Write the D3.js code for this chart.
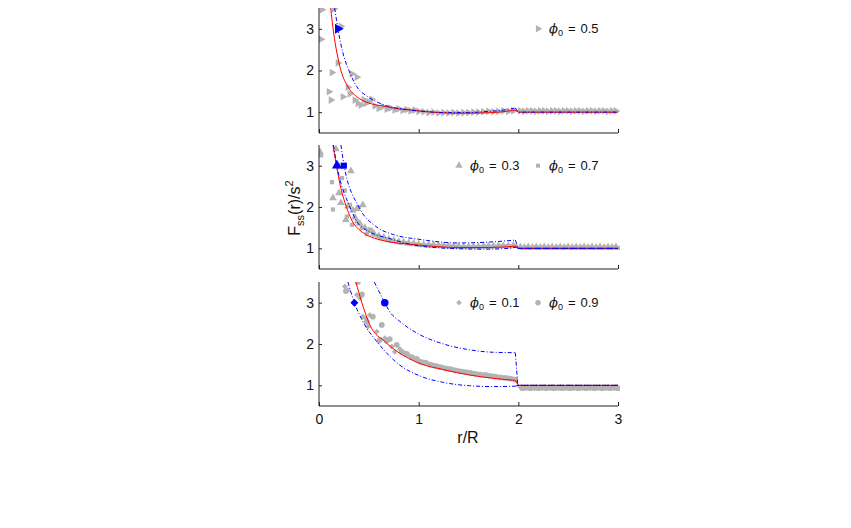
<!DOCTYPE html>
<html>
<head>
<meta charset="utf-8">
<script src="https://cdn.jsdelivr.net/npm/d3@7"></script>
<style>
  body { margin: 0; background: #fff; }
  svg text { font-family: "Liberation Sans", Arial, Helvetica, sans-serif; fill: #111; }
</style>
</head>
<body>
<svg id="chart" width="851" height="528"></svg>
<script>
// ---- data: [r/R, Fss/s^2] ----

const xTicks = [0, 1, 2, 3];
const yTicks = [1, 2, 3];

// panel 1 (phi0 = 0.5)
const p1Red = [[0.117,3.5],[0.147,2.9],[0.18,2.42],[0.22,2.0],[0.29,1.61],[0.38,1.37],[0.5,1.22],[0.66,1.14],[0.8,1.08],[0.93,1.05],[1.0,1.03],[1.2,0.99],[1.4,0.975],[1.6,0.98],[1.8,1.0],[1.97,1.05],[2.0,1.0],[3.0,1.0]];
const p1Blue = [[0.157,3.5],[0.19,3.0],[0.24,2.42],[0.30,2.0],[0.38,1.61],[0.49,1.37],[0.66,1.17],[0.93,1.05],[1.1,1.01],[1.3,0.99],[1.5,0.99],[1.7,1.02],[1.85,1.05],[1.97,1.10],[2.0,1.0],[3.0,1.0]];
const p1BlueMark = [[0.19, 3.0]];
const phi05 = [[0.02,2.75],[0.03,3.46],[0.10,1.49],[0.12,1.29],[0.13,1.95],[0.15,3.48],[0.19,2.18],[0.22,3.06],[0.24,1.37],[0.29,1.60],[0.31,1.44],[0.33,1.92],[0.36,1.29],[0.38,1.84],[0.39,1.21],[0.42,1.17],[0.45,1.30],[0.47,1.21],[0.50,1.25],[0.53,1.31],[0.56,1.15],[0.60,1.09],[0.64,1.13],[0.68,1.07],[0.72,1.10],[0.76,1.05],[0.80,1.08],[0.84,1.04],[0.88,1.06],[0.92,1.03],[0.96,1.05],[1.00,1.02],[1.05,1.01],[1.10,0.99],[1.15,1.00],[1.20,0.98],[1.25,0.99],[1.30,0.98],[1.35,0.99],[1.40,0.98],[1.45,0.99],[1.50,0.99],[1.55,1.00],[1.60,1.00],[1.65,1.01],[1.70,1.02],[1.75,1.01],[1.80,1.02],[1.85,1.03],[1.90,1.02],[1.95,1.03],[2.02,1.03],[2.06,1.02],[2.10,1.03],[2.14,1.03],[2.18,1.02],[2.22,1.03],[2.26,1.03],[2.30,1.02],[2.34,1.03],[2.38,1.03],[2.42,1.02],[2.46,1.03],[2.50,1.03],[2.54,1.02],[2.58,1.03],[2.62,1.03],[2.66,1.02],[2.70,1.03],[2.74,1.03],[2.78,1.02],[2.82,1.03],[2.86,1.03],[2.90,1.02],[2.94,1.03],[2.98,1.03]];

// panel 2 (phi0 = 0.3 and 0.7)
const p2Red = [[0.14,3.5],[0.175,3.0],[0.22,2.45],[0.275,2.0],[0.37,1.53],[0.62,1.2],[1.0,1.08],[1.4,1.02],[1.7,1.02],[1.97,1.05],[2.0,1.0],[3.0,1.0]];
const p2BlueLow = [[0.145,3.5],[0.18,3.0],[0.31,2.0],[0.42,1.53],[0.76,1.2],[1.0,1.06],[1.4,0.99],[1.7,0.98],[1.9,1.0],[1.98,1.03],[2.0,1.0],[3.0,1.0]];
const p2BlueHigh = [[0.22,3.5],[0.25,3.03],[0.40,2.0],[0.57,1.53],[0.75,1.33],[1.0,1.22],[1.4,1.13],[1.7,1.15],[1.97,1.2],[2.0,1.0],[3.0,1.0]];
const p2BlueTri = [[0.18, 3.0]];
const p2BlueSq = [[0.25, 3.0]];
const phi03 = [[0.01,3.33],[0.14,2.22],[0.17,3.40],[0.20,2.34],[0.21,2.98],[0.22,2.10],[0.27,1.69],[0.29,2.02],[0.32,2.87],[0.34,1.92],[0.36,1.75],[0.38,1.96],[0.41,1.60],[0.44,2.05],[0.46,1.50],[0.50,1.42],[0.55,1.36],[0.60,1.30],[0.65,1.26],[0.70,1.22],[0.75,1.19],[0.80,1.16],[0.85,1.15],[0.90,1.13],[0.95,1.12],[1.00,1.10],[1.05,1.09],[1.10,1.08],[1.15,1.08],[1.20,1.07],[1.25,1.06],[1.30,1.06],[1.35,1.05],[1.40,1.05],[1.45,1.04],[1.50,1.04],[1.55,1.04],[1.60,1.04],[1.65,1.05],[1.70,1.05],[1.75,1.05],[1.80,1.06],[1.85,1.06],[1.90,1.06],[1.95,1.07],[2.02,1.03],[2.06,1.02],[2.10,1.03],[2.14,1.02],[2.18,1.03],[2.22,1.02],[2.26,1.03],[2.30,1.02],[2.34,1.03],[2.38,1.02],[2.42,1.03],[2.46,1.02],[2.50,1.03],[2.54,1.02],[2.58,1.03],[2.62,1.02],[2.66,1.03],[2.70,1.02],[2.74,1.03],[2.78,1.02],[2.82,1.03],[2.86,1.02],[2.90,1.03],[2.94,1.02],[2.98,1.03]];
const phi07 = [[0.02,3.25],[0.13,2.60],[0.14,1.94],[0.23,2.70],[0.26,2.40],[0.28,1.77],[0.31,2.05],[0.33,1.57],[0.38,1.65],[0.40,2.00],[0.43,1.49],[0.48,1.35],[0.52,1.45],[0.55,1.33],[0.61,1.25],[0.68,1.20],[0.72,1.18],[0.78,1.15],[0.82,1.13],[0.88,1.12],[0.92,1.10],[0.98,1.09],[1.02,1.08],[1.08,1.07],[1.12,1.07],[1.18,1.06],[1.22,1.06],[1.28,1.05],[1.32,1.04],[1.38,1.04],[1.42,1.03],[1.48,1.03],[1.52,1.03],[1.58,1.03],[1.62,1.03],[1.68,1.04],[1.72,1.04],[1.78,1.04],[1.82,1.05],[1.88,1.05],[1.92,1.05],[1.97,1.06],[2.04,1.01],[2.08,1.02],[2.12,1.01],[2.16,1.02],[2.20,1.01],[2.24,1.02],[2.28,1.01],[2.32,1.02],[2.36,1.01],[2.40,1.02],[2.44,1.01],[2.48,1.02],[2.52,1.01],[2.56,1.02],[2.60,1.01],[2.64,1.02],[2.68,1.01],[2.72,1.02],[2.76,1.01],[2.80,1.02],[2.84,1.01],[2.88,1.02],[2.92,1.01],[2.96,1.02],[3.00,1.01]];

// panel 3 (phi0 = 0.1 and 0.9)
const p3Red = [[0.37,3.5],[0.43,3.0],[0.51,2.46],[0.66,2.06],[0.9,1.65],[1.01,1.53],[1.25,1.38],[1.51,1.25],[1.75,1.17],[1.97,1.12],[2.0,1.0],[3.0,1.0]];
const p3BlueLow = [[0.29,3.5],[0.355,3.0],[0.46,2.46],[0.58,2.06],[0.81,1.49],[1.01,1.23],[1.25,1.07],[1.51,0.99],[1.75,0.97],[1.97,0.98],[2.0,1.0],[3.0,1.0]];
const p3BlueHigh = [[0.555,3.5],[0.66,3.0],[0.71,2.78],[0.81,2.55],[1.0,2.24],[1.25,2.0],[1.51,1.86],[1.75,1.8],[1.97,1.79],[1.995,1.0],[3.0,1.0]];
const p3BlueDia = [[0.355, 3.0]];
const p3BlueCirc = [[0.66, 3.0]];
const phi01 = [[0.26,3.39],[0.29,3.30],[0.38,3.19],[0.41,3.11],[0.44,2.66],[0.47,2.62],[0.49,2.42],[0.51,2.70],[0.58,2.30],[0.60,2.06],[0.66,2.14],[0.73,1.94],[0.76,1.81],[0.81,1.88],[0.86,1.78],[0.90,1.73],[0.95,1.66],[1.00,1.60],[1.05,1.56],[1.10,1.52],[1.15,1.48],[1.20,1.45],[1.25,1.42],[1.30,1.40],[1.35,1.37],[1.40,1.35],[1.45,1.33],[1.50,1.31],[1.55,1.29],[1.60,1.27],[1.65,1.25],[1.70,1.23],[1.75,1.22],[1.80,1.20],[1.85,1.18],[1.90,1.17],[1.95,1.15],[2.02,0.96],[2.06,0.95],[2.10,0.96],[2.14,0.95],[2.18,0.96],[2.22,0.95],[2.26,0.96],[2.30,0.95],[2.34,0.96],[2.38,0.95],[2.42,0.96],[2.46,0.95],[2.50,0.96],[2.54,0.95],[2.58,0.96],[2.62,0.95],[2.66,0.96],[2.70,0.95],[2.74,0.96],[2.78,0.95],[2.82,0.96],[2.86,0.95],[2.90,0.96],[2.94,0.95],[2.98,0.96]];
const phi09 = [[0.27,3.28],[0.39,3.50],[0.43,3.20],[0.48,2.54],[0.54,2.66],[0.63,2.46],[0.61,2.10],[0.68,2.08],[0.71,2.12],[0.78,1.98],[0.83,1.81],[0.88,1.76],[0.93,1.68],[0.98,1.64],[1.02,1.57],[1.07,1.55],[1.12,1.50],[1.17,1.47],[1.22,1.44],[1.27,1.41],[1.32,1.39],[1.37,1.36],[1.42,1.34],[1.47,1.32],[1.52,1.30],[1.57,1.28],[1.62,1.26],[1.67,1.25],[1.72,1.23],[1.77,1.21],[1.82,1.19],[1.87,1.18],[1.92,1.16],[1.97,1.14],[2.04,0.93],[2.08,0.94],[2.12,0.93],[2.16,0.94],[2.20,0.93],[2.24,0.94],[2.28,0.93],[2.32,0.94],[2.36,0.93],[2.40,0.94],[2.44,0.93],[2.48,0.94],[2.52,0.93],[2.56,0.94],[2.60,0.93],[2.64,0.94],[2.68,0.93],[2.72,0.94],[2.76,0.93],[2.80,0.94],[2.84,0.93],[2.88,0.94],[2.92,0.93],[2.96,0.94],[3.00,0.93]];

// ---- layout ----
const GRAY = '#b3b3b3';
const BLUE = '#0000ff';
const RED = '#ff0000';
const svg = d3.select('#chart');
const x = d3.scaleLinear().domain([0, 3]).range([319, 618]);

const symTri = d3.symbolTriangle;
const symDia = d3.symbolDiamond2 || d3.symbolDiamond;

const panels = [
  { top: 8, bottom: 133, red: p1Red, blues: [p1Blue],
    scatter: [{ data: phi05, sym: symTri, rot: 90, size: 26 }],
    marks: [{ data: p1BlueMark, sym: symTri, rot: 90, size: 44 }],
    legend: [{ x: 538, label: '0.5', sym: symTri, rot: 90, size: 24 }] },
  { top: 145, bottom: 269, red: p2Red, blues: [p2BlueLow, p2BlueHigh],
    scatter: [{ data: phi07, sym: d3.symbolSquare, rot: 0, size: 18 },
              { data: phi03, sym: symTri, rot: 0, size: 26 }],
    marks: [{ data: p2BlueTri, sym: symTri, rot: 0, size: 44 },
            { data: p2BlueSq, sym: d3.symbolSquare, rot: 0, size: 36 }],
    legend: [{ x: 459, label: '0.3', sym: symTri, rot: 0, size: 24 },
             { x: 538, label: '0.7', sym: d3.symbolSquare, rot: 0, size: 16 }] },
  { top: 282, bottom: 406, red: p3Red, blues: [p3BlueLow, p3BlueHigh],
    scatter: [{ data: phi09, sym: d3.symbolCircle, rot: 0, size: 26 },
              { data: phi01, sym: symDia, rot: 0, size: 22 }],
    marks: [{ data: p3BlueDia, sym: symDia, rot: 0, size: 40 },
            { data: p3BlueCirc, sym: d3.symbolCircle, rot: 0, size: 44 }],
    legend: [{ x: 459, label: '0.1', sym: symDia, rot: 0, size: 20 },
             { x: 538, label: '0.9', sym: d3.symbolCircle, rot: 0, size: 24 }] }
];

panels.forEach((p, i) => {
  const y = d3.scaleLinear().domain([0.5, 3.5]).range([p.bottom, p.top]);
  const g = svg.append('g');

  const clipId = 'clip' + i;
  svg.append('clipPath').attr('id', clipId)
    .append('rect').attr('x', 319).attr('y', p.top)
    .attr('width', 301).attr('height', p.bottom - p.top);
  const plot = g.append('g').attr('clip-path', `url(#${clipId})`);

  // gray simulation markers
  p.scatter.forEach(s => {
    plot.append('g').selectAll('path').data(s.data).enter().append('path')
      .attr('d', d3.symbol().type(s.sym).size(s.size))
      .attr('transform', d => `translate(${x(d[0])},${y(d[1])}) rotate(${s.rot})`)
      .attr('fill', GRAY);
  });

  // smooth part with monotone curve, jump + tail straight
  const smooth = d3.line().x(d => x(d[0])).y(d => y(d[1])).curve(d3.curveMonotoneX);
  const straight = d3.line().x(d => x(d[0])).y(d => y(d[1]));
  const drawCurve = (pts, color, dash) => {
    const head = pts.filter(d => d[0] < 1.99);
    const tail = [head[head.length - 1], ...pts.filter(d => d[0] >= 1.99)];
    [[head, smooth], [tail, straight]].forEach(([data, gen]) => {
      plot.append('path').attr('d', gen(data))
        .attr('fill', 'none').attr('stroke', color).attr('stroke-width', 1)
        .attr('stroke-dasharray', dash);
    });
  };
  drawCurve(p.red, RED, null);
  p.blues.forEach(b => drawCurve(b, BLUE, '4,2,1,2'));

  // blue markers
  p.marks.forEach(m => {
    plot.append('g').selectAll('path').data(m.data).enter().append('path')
      .attr('d', d3.symbol().type(m.sym).size(m.size))
      .attr('transform', d => `translate(${x(d[0])},${y(d[1])}) rotate(${m.rot})`)
      .attr('fill', BLUE);
  });

  // axes
  const xAxis = d3.axisBottom(x).tickValues(xTicks).tickSize(-4)
    .tickFormat(i === 2 ? d3.format('d') : () => '');
  const gx = g.append('g').attr('transform', `translate(0,${p.bottom})`).call(xAxis);
  gx.select('.domain').attr('d', `M319,0H618`);
  gx.selectAll('text').attr('font-size', 14).attr('dy', '1.05em');

  const yAxis = d3.axisLeft(y).tickValues(yTicks).tickSize(-3).tickPadding(5).tickFormat(d3.format('d'));
  const gy = g.append('g').attr('transform', 'translate(319,0)').call(yAxis);
  gy.select('.domain').attr('d', `M0,${p.top}V${p.bottom}`);
  gy.selectAll('text').attr('font-size', 14);
  [gx, gy].forEach(a => {
    a.attr('font-family', null);
    a.selectAll('line,.domain').attr('stroke', '#222').attr('stroke-width', 1);
  });

  // legend
  const ly = y(3.0);
  p.legend.forEach(l => {
    g.append('path').attr('d', d3.symbol().type(l.sym).size(l.size)())
      .attr('transform', `translate(${l.x},${ly}) rotate(${l.rot})`).attr('fill', GRAY);
    const t = g.append('text').attr('x', l.x + 11).attr('y', ly + 4.5).attr('font-size', 13);
    t.append('tspan').attr('font-style', 'italic').attr('font-family', '"DejaVu Serif", serif').text('\u03d5');
    t.append('tspan').attr('font-size', 9).attr('dy', 3).text('0');
    t.append('tspan').attr('dy', -3).attr('dx', 5).text('=');
    t.append('tspan').attr('dx', 5).text(l.label);
  });
});

// axis labels
svg.append('text').attr('x', 468).attr('y', 443).attr('text-anchor', 'middle')
  .attr('font-size', 16).text('r/R');

const yl = svg.append('text').attr('transform', 'translate(300,208) rotate(-90)')
  .attr('text-anchor', 'middle').attr('font-size', 16);
yl.append('tspan').text('F');
yl.append('tspan').attr('font-size', 11).attr('dy', 4).text('ss');
yl.append('tspan').attr('dy', -4).text('(r)/s');
yl.append('tspan').attr('font-size', 11).attr('dy', -7).text('2');
</script>
</body>
</html>
